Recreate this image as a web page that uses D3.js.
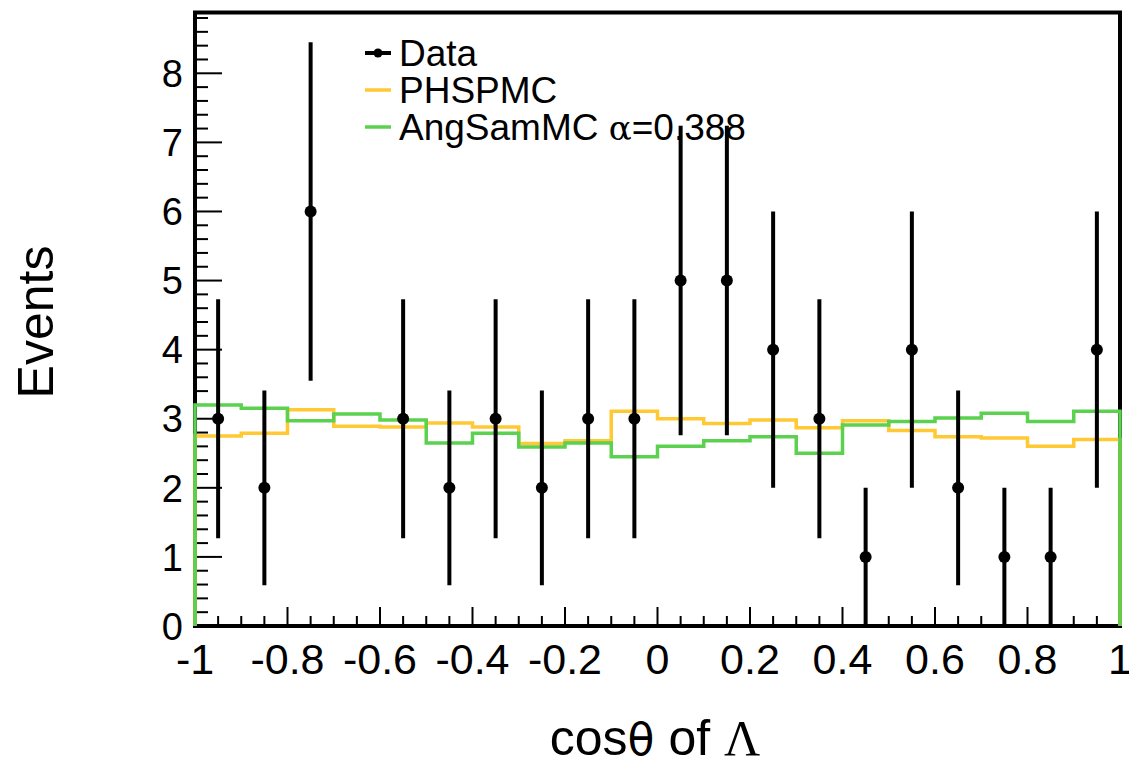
<!DOCTYPE html>
<html>
<head>
<meta charset="utf-8">
<script src="https://cdn.jsdelivr.net/npm/d3@7"></script>
<style>
	body { margin: 0; background: #fff; }
	text { font-family: "Liberation Sans", Arial, sans-serif; fill: #000; }
</style>
</head>
<body>
<div id="chart"></div>
<script>
/**
 * Data
 */
var binEdges = [-1, -0.9, -0.8, -0.7, -0.6, -0.5, -0.4, -0.3, -0.2, -0.1, 0,
	0.1, 0.2, 0.3, 0.4, 0.5, 0.6, 0.7, 0.8, 0.9, 1];
var binCenters = [-0.95, -0.85, -0.75, -0.65, -0.55, -0.45, -0.35, -0.25, -0.15, -0.05,
	0.05, 0.15, 0.25, 0.35, 0.45, 0.55, 0.65, 0.75, 0.85, 0.95];
var dataCounts = [3, 2, 6, 0, 3, 2, 3, 2, 3, 3, 5, 5, 4, 3, 1, 4, 2, 1, 1, 4];
var dataErrors = [1.73, 1.41, 2.45, 0, 1.73, 1.41, 1.73, 1.41, 1.73, 1.73,
	2.24, 2.24, 2.0, 1.73, 1.0, 2.0, 1.41, 1.0, 1.0, 2.0];
var phspValues = [2.75, 2.79, 3.13, 2.89, 2.88, 2.94, 2.88, 2.64, 2.68, 3.11,
	3.00, 2.93, 2.98, 2.87, 2.97, 2.83, 2.74, 2.72, 2.60, 2.70];
var angValues = [3.20, 3.15, 2.97, 3.07, 2.98, 2.65, 2.79, 2.59, 2.65, 2.45,
	2.60, 2.68, 2.74, 2.50, 2.91, 2.96, 3.01, 3.08, 2.96, 3.11];
var xTickLabels = [-1, -0.8, -0.6, -0.4, -0.2, 0, 0.2, 0.4, 0.6, 0.8, 1];
var yTickLabels = [0, 1, 2, 3, 4, 5, 6, 7, 8];
var legendNames = ["Data", "PHSPMC", "AngSamMC"];

// Layout
var W = 1129, H = 761;
var frame = { left: 195, right: 1120, top: 12.5, bottom: 626 };
var colors = { phsp: "#ffc933", ang: "#5bd14f" };

var svg = d3.select("#chart").append("svg")
	.attr("width", W).attr("height", H);

var x = d3.scaleLinear().domain([-1, 1]).range([frame.left, frame.right]);
var y = d3.scaleLinear().domain([0, 8.88]).range([frame.bottom, frame.top]);

// Frame
svg.append("rect")
	.attr("x", frame.left).attr("y", frame.top)
	.attr("width", frame.right - frame.left).attr("height", frame.bottom - frame.top)
	.attr("fill", "none").attr("stroke", "#000").attr("stroke-width", 4);

// Y ticks (inside)
var yMinor = d3.range(0, 8.81, 0.2);
svg.append("g").selectAll("line").data(yMinor).enter().append("line")
	.attr("x1", frame.left)
	.attr("x2", function(d) { return frame.left + (Math.abs(d - Math.round(d)) < 1e-6 ? 27 : 13); })
	.attr("y1", function(d) { return y(d); })
	.attr("y2", function(d) { return y(d); })
	.attr("stroke", "#000").attr("stroke-width", 2);
svg.append("g").selectAll("text").data(yTickLabels).enter().append("text")
	.attr("x", 183).attr("y", function(d) { return y(d); })
	.attr("dy", "0.36em")
	.attr("text-anchor", "end")
	.style("font-size", "38px")
	.text(function(d) { return d; });

// X ticks (inside)
var xMinor = d3.range(-1, 1.001, 0.05);
svg.append("g").selectAll("line").data(xMinor).enter().append("line")
	.attr("x1", function(d) { return x(d); })
	.attr("x2", function(d) { return x(d); })
	.attr("y1", frame.bottom)
	.attr("y2", function(d) { return frame.bottom - (Math.abs(d * 5 - Math.round(d * 5)) < 1e-6 ? 19 : 10); })
	.attr("stroke", "#000").attr("stroke-width", 2);
svg.append("g").selectAll("text").data(xTickLabels).enter().append("text")
	.attr("x", function(d) { return x(d); })
	.attr("y", 674)
	.attr("text-anchor", "middle")
	.style("font-size", "43px")
	.text(function(d) { return d; });

// Histograms
function histPoints(values) {
	var pts = [[binEdges[0], 0]];
	values.forEach(function(v, i) { pts.push([binEdges[i], v]); });
	pts.push([binEdges[binEdges.length - 1], values[values.length - 1]]);
	pts.push([binEdges[binEdges.length - 1], 0]);
	return pts;
}
var step = d3.line()
	.x(function(d) { return x(d[0]); })
	.y(function(d) { return y(d[1]); })
	.curve(d3.curveStepAfter);

svg.append("path").datum(histPoints(phspValues))
	.attr("d", step).attr("fill", "none")
	.attr("stroke", colors.phsp).attr("stroke-width", 3.5);
svg.append("path").datum(histPoints(angValues))
	.attr("d", step).attr("fill", "none")
	.attr("stroke", colors.ang).attr("stroke-width", 3.5);

// Data points with errors (empty bins not drawn)
var pts = binCenters.map(function(c, i) { return { x: c, v: dataCounts[i], e: dataErrors[i] }; })
	.filter(function(d) { return d.v > 0; });
var gData = svg.append("g");
gData.selectAll("line").data(pts).enter().append("line")
	.attr("x1", function(d) { return x(d.x); })
	.attr("x2", function(d) { return x(d.x); })
	.attr("y1", function(d) { return y(Math.max(0, d.v - d.e)); })
	.attr("y2", function(d) { return y(d.v + d.e); })
	.attr("stroke", "#000").attr("stroke-width", 4);
gData.selectAll("circle").data(pts).enter().append("circle")
	.attr("cx", function(d) { return x(d.x); })
	.attr("cy", function(d) { return y(d.v); })
	.attr("r", 6).attr("fill", "#000");

// Legend
var legend = svg.append("g");
var legendY = [53, 90, 127];
legend.append("line").attr("x1", 365).attr("x2", 391).attr("y1", legendY[0]).attr("y2", legendY[0])
	.attr("stroke", "#000").attr("stroke-width", 4);
legend.append("circle").attr("cx", 378).attr("cy", legendY[0]).attr("r", 4.5).attr("fill", "#000");
legend.append("line").attr("x1", 365).attr("x2", 391).attr("y1", legendY[1]).attr("y2", legendY[1])
	.attr("stroke", colors.phsp).attr("stroke-width", 3.5);
legend.append("line").attr("x1", 365).attr("x2", 391).attr("y1", legendY[2]).attr("y2", legendY[2])
	.attr("stroke", colors.ang).attr("stroke-width", 3.5);
legendNames.forEach(function(name, i) {
	var t = legend.append("text")
		.attr("x", 399).attr("y", legendY[i] + 12.5)
		.style("font-size", "37px")
		.text(name);
	if (i == 2) {
		t.append("tspan").text(" ");
		t.append("tspan").style("font-family", "'DejaVu Serif', serif").style("font-size", "34px").text("α");
		t.append("tspan").text("=0.388");
	}
});

// Axis titles
var xt = svg.append("text")
	.attr("x", 655).attr("y", 755)
	.attr("text-anchor", "middle")
	.style("font-size", "50px");
xt.append("tspan").text("cos");
xt.append("tspan").style("font-family", "'DejaVu Sans', sans-serif").style("font-size", "44px").text("θ");
xt.append("tspan").text(" of ");
xt.append("tspan").style("font-family", "'Liberation Serif', serif").text("Λ");

svg.append("text")
	.attr("transform", "translate(53,322) rotate(-90)")
	.attr("text-anchor", "middle")
	.style("font-size", "50px")
	.text("Events");
</script>
</body>
</html>
